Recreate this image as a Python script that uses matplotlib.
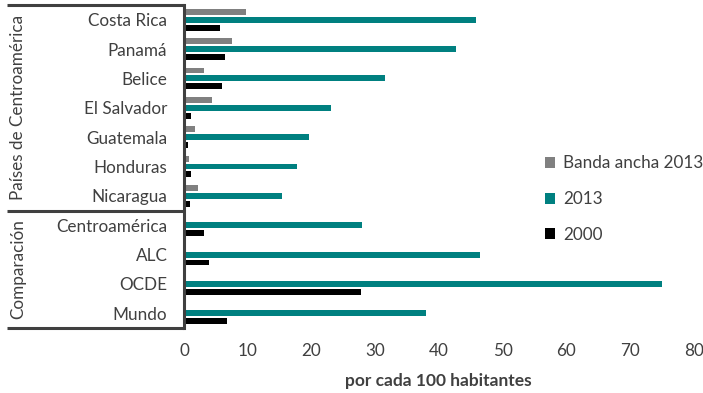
import matplotlib
matplotlib.use('Agg')
import matplotlib.pyplot as plt
import matplotlib.transforms as mtransforms
import numpy as np

plt.rcParams['font.family'] = ['Lato', 'DejaVu Sans']

countries = ['Costa Rica', 'Panamá', 'Belice', 'El Salvador', 'Guatemala',
             'Honduras', 'Nicaragua', 'Centroamérica', 'ALC', 'OCDE', 'Mundo']
banda_ancha_2013 = [9.7, 7.6, 3.1, 4.4, 1.8, 0.8, 2.2, np.nan, np.nan, np.nan, np.nan]
values_2013 = [45.8, 42.7, 31.6, 23.0, 19.6, 17.7, 15.4, 27.9, 46.5, 75.0, 38.0]
values_2000 = [5.7, 6.5, 5.9, 1.1, 0.7, 1.1, 0.9, 3.1, 3.9, 27.8, 6.7]
groups = ['Países de Centroamérica', 'Comparación']
group_sizes = [7, 4]

text_col = '#404040'
line_col = '#404040'

X0, X1 = 184, 693.6   # plot area in pixels
Y0, Y1 = 5, 328


def plot_chart():
    fig = plt.figure(figsize=(7.03, 3.93), dpi=100)
    ax = fig.add_axes([X0 / 703, 1 - Y1 / 393, (X1 - X0) / 703, (Y1 - Y0) / 393])

    y = np.arange(len(countries))
    h = 0.2
    off = 0.27
    ax.barh(y - off, banda_ancha_2013, height=h, color='#808080', label='Banda ancha 2013')
    ax.barh(y, values_2013, height=h, color='#008080', label='2013')
    ax.barh(y + off, values_2000, height=h, color='#000000', label='2000')

    ax.set_xlim(0, 80)
    ax.set_ylim(len(countries) - 0.5, -0.5)
    ax.set_xticks(np.arange(0, 81, 10))
    ax.set_yticks(y)
    ax.set_yticklabels(countries)
    ax.tick_params(axis='y', length=0, pad=12, labelsize=12.3, labelcolor=text_col)
    ax.tick_params(axis='x', length=0, pad=11, labelsize=12.3, labelcolor=text_col)
    for s in ['top', 'right', 'bottom']:
        ax.spines[s].set_visible(False)
    ax.spines['left'].set_color(line_col)
    ax.spines['left'].set_linewidth(2.2)

    ax.set_xlabel('por cada 100 habitantes', fontsize=12.5, fontweight='bold',
                  color=text_col, labelpad=10)

    # group box on the left
    trans = mtransforms.blended_transform_factory(ax.transAxes, ax.transData)
    x0 = (7 - X0) / (X1 - X0)
    bounds = [-0.5]
    for n in group_sizes:
        bounds.append(bounds[-1] + n)
    for b in bounds:
        ax.plot([x0, 0], [b, b], color=line_col, lw=2.2, transform=trans,
                clip_on=False, solid_capstyle='butt')
    xg = (18 - X0) / (X1 - X0)
    for i, g in enumerate(groups):
        ax.text(xg, (bounds[i] + bounds[i + 1]) / 2, g, rotation=90, ha='center',
                va='center', fontsize=12.3, color=text_col, transform=trans)

    handles, labels = ax.get_legend_handles_labels()
    leg = ax.legend(handles, labels, loc='center left',
                    bbox_to_anchor=((545 - X0) / (X1 - X0), 0.399),
                    frameon=False, fontsize=12.3, handlelength=0.6, handleheight=0.6,
                    handletextpad=0.45, labelspacing=1.15, borderpad=0, borderaxespad=0)
    for t in leg.get_texts():
        t.set_color(text_col)

    fig.savefig('out.png', dpi=100)


def main():
    plot_chart()


if __name__ == '__main__':
    main()
